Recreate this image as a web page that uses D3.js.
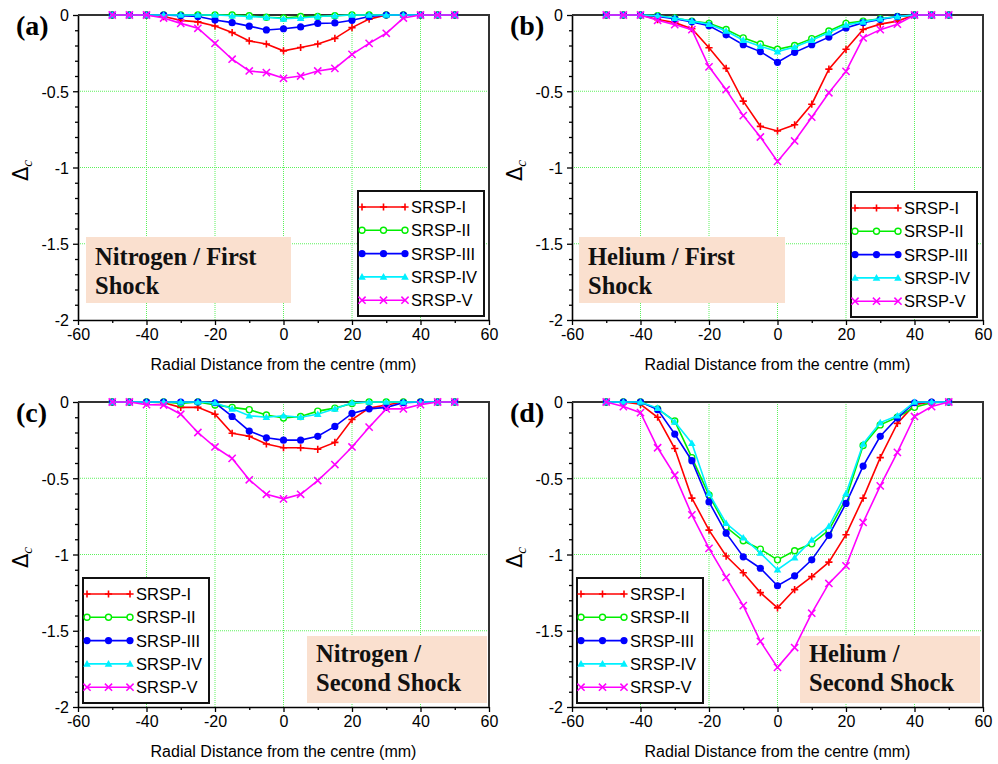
<!DOCTYPE html>
<html>
<head>
<meta charset="utf-8">
<script src="https://cdn.jsdelivr.net/npm/d3@7"></script>
<style>
  html, body { margin: 0; padding: 0; background: #ffffff; }
  svg { display: block; }
</style>
</head>
<body>
<svg id="chart" width="998" height="764"></svg>
<script>
// Radial positions (mm) shared by every profile
const radialPositions = [-50,-45,-40,-35,-30,-25,-20,-15,-10,-5,0,5,10,15,20,25,30,35,40,45,50];

const seriesNames = ["SRSP-I", "SRSP-II", "SRSP-III", "SRSP-IV", "SRSP-V"];

const xTickValues = [-60, -40, -20, 0, 20, 40, 60];
const xMinorTicks = [-50, -30, -10, 10, 30, 50];
const yTickValues = [0, -0.5, -1, -1.5, -2];
const yMinorTicks = [-0.1,-0.2,-0.3,-0.4,-0.6,-0.7,-0.8,-0.9,-1.1,-1.2,-1.3,-1.4,-1.6,-1.7,-1.8,-1.9];

// (a) Nitrogen / First Shock
const n1_I   = [0,0,0,-0.01,-0.035,-0.045,-0.072,-0.115,-0.17,-0.19,-0.235,-0.213,-0.19,-0.153,-0.083,-0.027,0,0,0,0,0];
const n1_II  = [0,0,0,0,0,0,0,0,-0.005,-0.015,-0.02,-0.01,-0.01,-0.005,0,0,0,0,0,0,0];
const n1_III = [0,0,0,0,-0.005,-0.01,-0.033,-0.05,-0.073,-0.098,-0.09,-0.078,-0.055,-0.052,-0.035,-0.01,0,0,0,0,0];
const n1_IV  = [0,0,0,0,0,0,0,-0.005,-0.01,-0.015,-0.025,-0.02,-0.01,-0.005,0,0,0,0,0,0,0];
const n1_V   = [0,0,0,-0.02,-0.055,-0.087,-0.186,-0.29,-0.367,-0.378,-0.415,-0.4,-0.367,-0.35,-0.258,-0.186,-0.12,-0.02,0,0,0];

// (b) Helium / First Shock
const h1_I   = [0,0,0,-0.03,-0.05,-0.09,-0.215,-0.35,-0.565,-0.73,-0.76,-0.72,-0.585,-0.355,-0.225,-0.095,-0.06,-0.04,0,0,0];
const h1_II  = [0,0,0,-0.005,-0.02,-0.04,-0.055,-0.095,-0.15,-0.19,-0.225,-0.2,-0.155,-0.105,-0.055,-0.04,-0.025,-0.01,0,0,0];
const h1_III = [0,0,0,-0.01,-0.025,-0.045,-0.07,-0.13,-0.195,-0.24,-0.31,-0.245,-0.195,-0.145,-0.085,-0.05,-0.03,-0.01,0,0,0];
const h1_IV  = [0,0,0,-0.005,-0.02,-0.04,-0.06,-0.105,-0.165,-0.205,-0.24,-0.21,-0.165,-0.115,-0.065,-0.045,-0.025,-0.01,0,0,0];
const h1_V   = [0,0,0,-0.035,-0.063,-0.096,-0.34,-0.49,-0.66,-0.8,-0.96,-0.826,-0.67,-0.51,-0.37,-0.15,-0.096,-0.06,0,0,0];

// (c) Nitrogen / Second Shock
const n2_I   = [0,0,0,-0.005,-0.035,-0.035,-0.08,-0.205,-0.225,-0.275,-0.3,-0.3,-0.31,-0.265,-0.115,-0.04,-0.02,0,0,0,0];
const n2_II  = [0,0,0,0,-0.01,0,-0.02,-0.035,-0.05,-0.085,-0.105,-0.095,-0.06,-0.04,-0.01,0,0,0,0,0,0];
const n2_III = [0,0,0,0,0,0,-0.005,-0.095,-0.19,-0.235,-0.25,-0.25,-0.225,-0.16,-0.075,-0.045,-0.035,-0.005,0,0,0];
const n2_IV  = [0,0,0,0,0,0,-0.005,-0.045,-0.09,-0.1,-0.09,-0.1,-0.08,-0.045,-0.005,0,0,0,0,0,0];
const n2_V   = [0,0,-0.017,-0.02,-0.08,-0.2,-0.295,-0.37,-0.51,-0.605,-0.635,-0.605,-0.515,-0.41,-0.295,-0.165,-0.045,-0.045,-0.017,0,0];

// (d) Helium / Second Shock
const h2_I   = [0,0,-0.015,-0.1,-0.305,-0.63,-0.84,-1.01,-1.12,-1.25,-1.35,-1.23,-1.145,-1.05,-0.87,-0.63,-0.365,-0.14,-0.017,0,0];
const h2_II  = [0,0,0,-0.045,-0.125,-0.365,-0.61,-0.82,-0.91,-0.965,-1.035,-0.975,-0.93,-0.84,-0.635,-0.285,-0.15,-0.1,-0.035,-0.005,0];
const h2_III = [0,0,0,-0.05,-0.21,-0.385,-0.655,-0.86,-1.015,-1.09,-1.205,-1.14,-1.035,-0.875,-0.665,-0.42,-0.225,-0.105,-0.005,0,0];
const h2_IV  = [0,0,0,-0.04,-0.13,-0.27,-0.6,-0.795,-0.89,-0.99,-1.1,-1.02,-0.905,-0.815,-0.6,-0.275,-0.135,-0.09,0,0,0];
const h2_V   = [0,-0.03,-0.07,-0.3,-0.48,-0.74,-0.96,-1.15,-1.335,-1.57,-1.74,-1.61,-1.385,-1.19,-1.075,-0.79,-0.55,-0.33,-0.095,-0.03,0];

const panelTags = ["(a)", "(b)", "(c)", "(d)"];
const panelCaptions = [
  ["Nitrogen / First", "Shock"],
  ["Helium / First", "Shock"],
  ["Nitrogen /", "Second Shock"],
  ["Helium /", "Second Shock"]
];
const panelSeries = [
  [n1_I, n1_II, n1_III, n1_IV, n1_V],
  [h1_I, h1_II, h1_III, h1_IV, h1_V],
  [n2_I, n2_II, n2_III, n2_IV, n2_V],
  [h2_I, h2_II, h2_III, h2_IV, h2_V]
];

// ---- styling / layout ----
const colors = ["#ff0000", "#00ee00", "#0000ff", "#00f0ff", "#ff00ff"];
const markerKinds = ["plus", "openCircle", "dot", "triangle", "cross"];
const plotW = 411, plotH = 305;
const panelOrigins = [[78, 15], [572, 15], [78, 402], [572, 402]];
const legendAt = [[280, 176], [279, 177], [5, 176], [5, 176]];
const captionBox = [[8, 222, 205, 66], [7, 222, 206, 66], [229, 234, 180, 67], [228, 234, 180, 67]];
const sansFont = "Arial, 'Liberation Sans', sans-serif";
const serifFont = "'Times New Roman', 'Liberation Serif', serif";

const svg = d3.select("#chart");

function drawMarker(g, kind, color, cx, cy) {
  const s = 3.6;
  if (kind === "plus") {
    g.append("path").attr("d", `M${cx - s},${cy}H${cx + s}M${cx},${cy - s}V${cy + s}`)
      .attr("stroke", color).attr("stroke-width", 1.6).attr("fill", "none");
  } else if (kind === "cross") {
    g.append("path").attr("d", `M${cx - s},${cy - s}L${cx + s},${cy + s}M${cx - s},${cy + s}L${cx + s},${cy - s}`)
      .attr("stroke", color).attr("stroke-width", 1.5).attr("fill", "none");
  } else if (kind === "openCircle") {
    g.append("circle").attr("cx", cx).attr("cy", cy).attr("r", 3)
      .attr("fill", "#ffffff").attr("stroke", color).attr("stroke-width", 1.4);
  } else if (kind === "dot") {
    g.append("circle").attr("cx", cx).attr("cy", cy).attr("r", 3.6).attr("fill", color);
  } else if (kind === "triangle") {
    const t = 3.8;
    g.append("path").attr("d", `M${cx},${cy - t}L${cx + t},${cy + t * 0.75}L${cx - t},${cy + t * 0.75}Z`)
      .attr("fill", color);
  }
}

panelSeries.forEach((seriesSet, p) => {
  const [ox, oy] = panelOrigins[p];
  const g = svg.append("g").attr("transform", `translate(${ox},${oy})`);

  const x = d3.scaleLinear().domain([-60, 60]).range([0, plotW]);
  const y = d3.scaleLinear().domain([-2, 0]).range([plotH, 0]);

  // grid
  const grid = g.append("g").attr("stroke", "#5cf25c").attr("stroke-width", 1)
    .attr("stroke-dasharray", "1,1").attr("fill", "none");
  [-40, -20, 0, 20, 40].forEach(v => {
    grid.append("line").attr("x1", x(v)).attr("x2", x(v)).attr("y1", 0).attr("y2", plotH);
  });
  [-0.5, -1, -1.5].forEach(v => {
    grid.append("line").attr("x1", 0).attr("x2", plotW).attr("y1", y(v)).attr("y2", y(v));
  });

  // caption box
  const [bx, by, bw, bh] = captionBox[p];
  g.append("rect").attr("x", bx).attr("y", by).attr("width", bw).attr("height", bh)
    .attr("fill", "#fae0cf");
  const capX = bx + 9;
  const capY = p < 2 ? by + 28 : by + 26;
  panelCaptions[p].forEach((line, i) => {
    g.append("text").attr("x", capX).attr("y", capY + i * 28.5)
      .attr("font-family", serifFont)
      .attr("font-weight", "bold").attr("font-size", 24.5).attr("fill", "#111")
      .text(line);
  });

  // axes
  const fmt = d => String(d);
  const xAxis = g.append("g").attr("transform", `translate(0,${plotH})`)
    .call(d3.axisBottom(x).tickValues(xTickValues).tickSize(5).tickSizeOuter(0).tickFormat(fmt).tickPadding(4));
  g.append("g").attr("transform", `translate(0,${plotH})`)
    .call(d3.axisBottom(x).tickValues(xMinorTicks).tickSize(3).tickSizeOuter(0).tickFormat(""))
    .call(a => a.select(".domain").remove());
  const yAxis = g.append("g")
    .call(d3.axisLeft(y).tickValues(yTickValues).tickSize(5).tickSizeOuter(0).tickFormat(fmt).tickPadding(4));
  g.append("g")
    .call(d3.axisLeft(y).tickValues(yMinorTicks).tickSize(3).tickSizeOuter(0).tickFormat(""))
    .call(a => a.select(".domain").remove());

  [xAxis, yAxis].forEach(a => {
    a.selectAll("text").attr("font-family", sansFont)
      .attr("font-size", 16).attr("fill", "#000");
    a.select(".domain").attr("stroke", "#000").attr("stroke-width", 1.6);
  });
  g.selectAll(".tick line").attr("stroke", "#000").attr("stroke-width", 1.3);
  yAxis.selectAll(".tick text").attr("dy", "0.36em");

  // top and right frame
  g.append("path").attr("d", `M0,0H${plotW}V${plotH}`).attr("fill", "none")
    .attr("stroke", "#333").attr("stroke-width", 2);

  // series
  seriesSet.forEach((vals, s) => {
    const pts = radialPositions.map((r, i) => [x(r), y(vals[i])]);
    g.append("path").attr("d", d3.line()(pts)).attr("fill", "none")
      .attr("stroke", colors[s]).attr("stroke-width", 1.6);
    const mg = g.append("g");
    pts.forEach(([px, py]) => drawMarker(mg, markerKinds[s], colors[s], px, py));
  });

  // legend
  const [lx, ly] = legendAt[p];
  const lg = g.append("g").attr("transform", `translate(${lx},${ly})`);
  lg.append("rect").attr("x", 0).attr("y", 0).attr("width", 126).attr("height", 125)
    .attr("fill", "#ffffff").attr("stroke", "#111").attr("stroke-width", 2);
  seriesNames.forEach((name, s) => {
    const ry = 16 + s * 23.3;
    lg.append("line").attr("x1", 4).attr("x2", 47).attr("y1", ry).attr("y2", ry)
      .attr("stroke", colors[s]).attr("stroke-width", 1.6);
    [4, 25.5, 47].forEach(mx => drawMarker(lg, markerKinds[s], colors[s], mx, ry));
    lg.append("text").attr("x", 53).attr("y", ry).attr("dy", "0.36em")
      .attr("font-family", sansFont).attr("font-size", 16.5)
      .attr("fill", "#000").text(name);
  });

  // axis titles
  g.append("text").attr("x", plotW / 2).attr("y", plotH + 50)
    .attr("text-anchor", "middle")
    .attr("font-family", sansFont).attr("font-size", 16)
    .attr("fill", "#000").text("Radial Distance from the centre (mm)");

  const yl = g.append("text").attr("transform", `translate(-50,${plotH / 2 + 3}) rotate(-90)`)
    .attr("text-anchor", "middle").attr("fill", "#000");
  yl.append("tspan").attr("font-family", "'DejaVu Sans', Arial, sans-serif").attr("font-size", 21).text("Δ");
  yl.append("tspan").attr("font-family", serifFont)
    .attr("font-style", "italic").attr("font-size", 15).attr("dy", 4).text("c");

  // panel tag
  g.append("text").attr("x", -62).attr("y", 20)
    .attr("font-family", serifFont)
    .attr("font-weight", "bold").attr("font-size", 28).attr("fill", "#000")
    .text(panelTags[p]);
});
</script>
</body>
</html>
